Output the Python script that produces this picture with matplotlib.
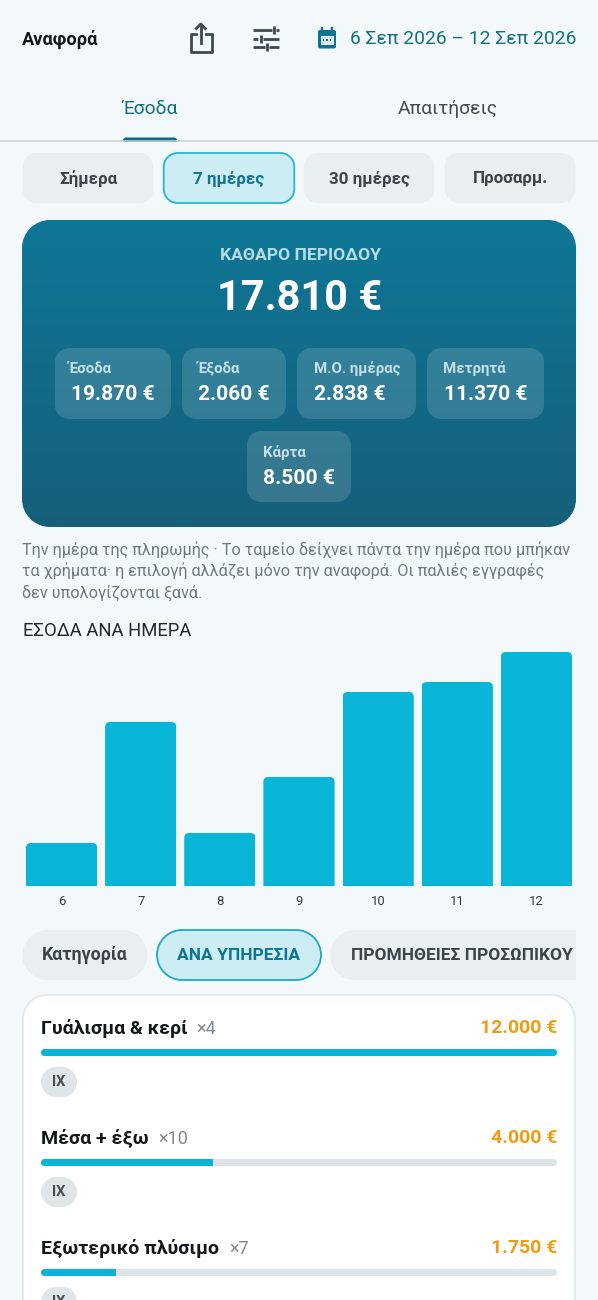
import matplotlib
matplotlib.use("Agg")
import matplotlib.pyplot as plt
import numpy as np
from matplotlib.colors import LinearSegmentedColormap
from matplotlib.patches import FancyBboxPatch, PathPatch, Rectangle
from matplotlib.path import Path

plt.rcParams["font.family"] = ["Roboto", "DejaVu Sans"]

days = ["6", "7", "8", "9", "10", "11", "12"]
income_per_day = [850, 3270, 1050, 2170, 3870, 4070, 4670]

range_chips = ["Σήμερα", "7 ημέρες", "30 ημέρες", "Προσαρμ."]
stat_labels = ["Έσοδα", "Έξοδα", "Μ.Ο. ημέρας", "Μετρητά", "Κάρτα"]
stat_values = ["19.870 €", "2.060 €", "2.838 €", "11.370 €", "8.500 €"]

services = ["Γυάλισμα & κερί", "Μέσα + έξω", "Εξωτερικό πλύσιμο"]
service_counts = ["×4", "×10", "×7"]
service_amounts = [12000, 4000, 1750]
service_amount_labels = ["12.000 €", "4.000 €", "1.750 €"]

BG = "#f3f8fb"
TEAL = "#0e7490"
CYAN = "#08b5d6"
CHIP = "#e9eef1"
CHIP_ON = "#cdedf5"
DARK = "#3c4449"
ORANGE = "#f39c12"


def px(size):
    return size * 0.72


def box(x0, y0, x1, y1, r, **kw):
    # rounded rectangle with real circular corners
    k = r * 0.4477
    verts = [(x0 + r, y0), (x1 - r, y0), (x1 - k, y0), (x1, y0 + k), (x1, y0 + r),
             (x1, y1 - r), (x1, y1 - k), (x1 - k, y1), (x1 - r, y1),
             (x0 + r, y1), (x0 + k, y1), (x0, y1 - k), (x0, y1 - r),
             (x0, y0 + r), (x0, y0 + k), (x0 + k, y0), (x0 + r, y0), (x0 + r, y0)]
    codes = [Path.MOVETO, Path.LINETO, Path.CURVE4, Path.CURVE4, Path.CURVE4,
             Path.LINETO, Path.CURVE4, Path.CURVE4, Path.CURVE4,
             Path.LINETO, Path.CURVE4, Path.CURVE4, Path.CURVE4,
             Path.LINETO, Path.CURVE4, Path.CURVE4, Path.CURVE4, Path.CLOSEPOLY]
    p = PathPatch(Path(verts, codes), **kw)
    ax.add_patch(p)
    return p


fig = plt.figure(figsize=(5.98, 13.0), dpi=100, facecolor=BG)
ax = fig.add_axes([0, 0, 1, 1])
ax.set_facecolor(BG)
ax.axis("off")
ax.set_xlim(0, 598)
ax.set_ylim(1300, 0)

# header
ax.text(22, 39, "Αναφορά", fontsize=px(18.3), fontweight="bold", color="#11181c", va="center")

# share icon
icon = "#3f4a50"
ax.plot([196, 190.5, 190.5, 211.5, 211.5, 206], [33.5, 33.5, 52, 52, 33.5, 33.5],
        color=icon, lw=px(2.8), solid_joinstyle="round")
ax.plot([200.8, 200.8], [24.5, 43], color=icon, lw=px(2.8))
ax.plot([196.3, 200.8, 205.3], [28.5, 24, 28.5], color=icon, lw=px(2.8))

# tune icon
for y, segs, tick in [(30, [(253.3, 271.5), (275.5, 278.5)], 273.5),
                      (39, [(253.3, 257.5), (263, 278.5)], 260.7),
                      (47, [(253.3, 265), (268.5, 278.5)], 266.7)]:
    for a, b in segs:
        ax.plot([a, b], [y, y], color=icon, lw=px(2.8), solid_capstyle="butt")
    ax.plot([tick, tick], [y - 4, y + 4], color=icon, lw=px(2.8), solid_capstyle="butt")

# calendar icon
box(318, 30, 336, 48.5, 2, fc=TEAL, ec="none")
for x in (322, 332):
    ax.plot([x, x], [27.5, 31], color=TEAL, lw=px(2.4))
ax.add_patch(Rectangle((320.5, 36), 13, 8.5, fc="#dcebf0", ec="none"))
for x in (323.5, 327, 330.5):
    ax.add_patch(Rectangle((x - 0.8, 39), 1.6, 1.8, fc=TEAL, ec="none"))
ax.text(350, 39.5, "6 Σεπ 2026 – 12 Σεπ 2026", fontsize=px(19.3), color="#14707f", va="center")

# tabs
ax.text(149.5, 108.5, "Έσοδα", fontsize=px(19.3), color="#14707f", ha="center", va="center")
ax.text(448, 108.5, "Απαιτήσεις", fontsize=px(19.3), color="#444c50", ha="center", va="center")
ax.plot([0, 598], [141, 141], color="#c9d0d4", lw=px(1.6))
box(123, 137.5, 177, 144, 3, fc="#0f6b7f", ec="none", zorder=1.5)
ax.add_patch(Rectangle((115, 141.5), 70, 6, fc=BG, ec="none", zorder=1.6))

# range chips
chip_x = [(22, 154), (163, 295), (303, 435), (444, 576)]
for i, (label, (x0, x1)) in enumerate(zip(range_chips, chip_x)):
    on = i == 1
    box(x0 + 0.7, 153, x1 - 0.7, 203, 14, fc=CHIP_ON if on else CHIP,
        ec="#22b8d0" if on else "none", lw=px(1.8))
    ax.text((x0 + x1) / 2, 179, label, fontsize=px(17), fontweight="bold",
            color=TEAL if on else DARK, ha="center", va="center")

# hero card
hero = box(22, 220, 576, 527, 28, fc="none", ec="none")
cmap = LinearSegmentedColormap.from_list("hero", ["#0e7796", "#165f7a"])
img = ax.imshow(np.linspace(0, 1, 256).reshape(-1, 1), extent=(22, 576, 527, 220),
                cmap=cmap, aspect="auto", zorder=1)
img.set_clip_path(hero)
ax.set_xlim(0, 598)
ax.set_ylim(1300, 0)

ax.text(300, 255.5, "ΚΑΘΑΡΟ ΠΕΡΙΟΔΟΥ", fontsize=px(17.5), fontweight="bold", color="#b5dbe6",
        ha="center", va="center", zorder=3)
ax.text(299.5, 299, "17.810 €", fontsize=px(41.5), fontweight="bold", color="white",
        ha="center", va="center", zorder=3)

stat_boxes = [(55, 348, 171, 419), (182, 348, 286, 419), (297, 348, 416, 419),
              (427, 348, 544, 419), (247, 431, 351, 502)]
label_x = [69, 198, 314, 443.5, 263]
value_x = [71, 198, 314, 444, 263]
for i, (x0, y0, x1, y1) in enumerate(stat_boxes):
    box(x0, y0, x1, y1, 14, fc=(1, 1, 1, 0.14), ec="none", zorder=2)
    ax.text(label_x[i], y0 + 21, stat_labels[i], fontsize=px(15), fontweight="bold",
            color="#c5e0e8", va="center", zorder=3)
    ax.text(value_x[i], y0 + 47, stat_values[i], fontsize=px(21), fontweight="bold",
            color="white", va="center", zorder=3)

# note under the card
note = ["Την ημέρα της πληρωμής · Το ταμείο δείχνει πάντα την ημέρα που μπήκαν",
        "τα χρήματα· η επιλογή αλλάζει μόνο την αναφορά. Οι παλιές εγγραφές",
        "δεν υπολογίζονται ξανά."]
for y, line in zip([549.5, 571, 592.5], note):
    ax.text(22, y, line, fontsize=px(16.2), color="#6f7a80", va="center")

ax.text(23, 630.5, "ΕΣΟΔΑ ΑΝΑ ΗΜΕΡΑ", fontsize=px(18.5), color="#222a2e", va="center")

# bars per day
ax_bars = fig.add_axes([22 / 598, (1300 - 885.5) / 1300, 554 / 598, 233.5 / 1300])
ax_bars.patch.set_alpha(0)
top = max(income_per_day)
bars = ax_bars.bar(range(len(days)), income_per_day, width=0.9, color=CYAN)
ax_bars.set_xlim(-0.5, len(days) - 0.5)
ax_bars.set_ylim(0, top)
ax_bars.set_xticks(range(len(days)), days, fontsize=px(13), color="#333b40")
ax_bars.set_yticks([])
ax_bars.tick_params(axis="x", length=0, pad=7)
for s in ax_bars.spines.values():
    s.set_visible(False)
# rounded top corners
round_x = 5 / (554 / 7)
for b in bars:
    clip = FancyBboxPatch((b.get_x(), -top * 0.2), b.get_width(), b.get_height() + top * 0.2,
                          boxstyle=f"round,pad=0,rounding_size={round_x}",
                          mutation_aspect=top / 233.5 * (554 / 7),
                          transform=ax_bars.transData)
    b.set_clip_path(clip)

# category pills
clip_right = Rectangle((0, 920), 576, 70, transform=ax.transData)
box(22.5, 930, 147.5, 980, 25, fc=CHIP, ec="none")
ax.text(85, 955.5, "Κατηγορία", fontsize=px(17.7), fontweight="bold", color=DARK, ha="center", va="center")
box(157, 930, 321, 980, 25, fc=CHIP_ON, ec="#1fa9c4", lw=px(1.8))
ax.text(239, 955.5, "ΑΝΑ ΥΠΗΡΕΣΙΑ", fontsize=px(17.4), fontweight="bold", color=TEAL, ha="center", va="center")
pill = box(330, 930, 640, 980, 25, fc=CHIP, ec="none")
pill.set_clip_path(clip_right)
t = ax.text(351, 955.5, "ΠΡΟΜΗΘΕΙΕΣ ΠΡΟΣΩΠΙΚΟΥ", fontsize=px(17.4), fontweight="bold",
            color=DARK, va="center", clip_on=True)
t.set_clip_path(clip_right)

# services card, runs off the bottom
box(23, 995, 575, 1360, 24, fc="white", ec="#dfe5e8", lw=px(1.6))

row_y = [0, 110, 220]
count_x = [196.5, 158.5, 229.5]
tracks = []
for i, y in enumerate(row_y):
    ax.text(41, 1028 + y, services[i], fontsize=px(19.5), fontweight="bold", color="#11181c", va="center")
    ax.text(count_x[i], 1029 + y, service_counts[i], fontsize=px(18), color="#81898e", va="center")
    ax.text(557, 1028 + y, service_amount_labels[i], fontsize=px(19.5), fontweight="bold",
            color=ORANGE, ha="right", va="center")
    tracks.append(box(41, 1049 + y, 557, 1056 + y, 3.5, fc="#dde3e6", ec="none"))
    box(41, 1067 + y, 77, 1097 + y, 15, fc="#e0e5e8", ec="none")
    ax.text(59, 1082.5 + y, "IX", fontsize=px(14.5), fontweight="bold", color="#454d52",
            ha="center", va="center")

# service amount bars
ax_rows = fig.add_axes([41 / 598, 0, 516 / 598, 1])
ax_rows.patch.set_alpha(0)
ax_rows.axis("off")
ax_rows.set_xlim(0, max(service_amounts))
ax_rows.set_ylim(1300, 0)
fills = ax_rows.barh([1052.5 + y for y in row_y], service_amounts, height=7, color=CYAN)
for b, track in zip(fills, tracks):
    b.set_clip_path(track)

fig.savefig("out.png", dpi=100, facecolor=BG)
